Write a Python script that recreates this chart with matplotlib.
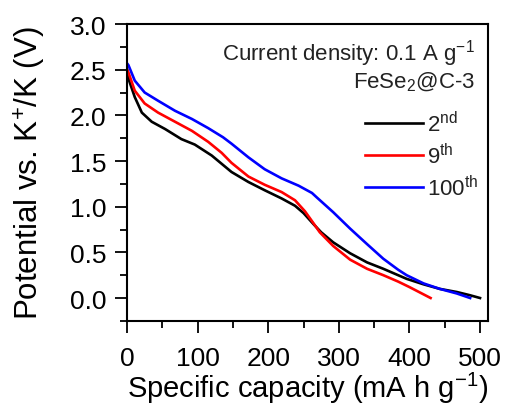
import matplotlib.pyplot as plt
import numpy as np

plt.rcParams['font.family'] = ['Liberation Sans', 'DejaVu Sans']
plt.rcParams['mathtext.fontset'] = 'custom'
plt.rcParams['mathtext.rm'] = 'Liberation Sans'

# discharge profiles (capacity in mA h g-1, potential in V)
cap_2nd = [0, 3, 11, 21, 35, 54, 77, 96, 120, 134, 148, 172, 195, 219, 238, 250, 264,
           275, 292, 316, 340, 363, 384, 396, 420, 443, 467, 486, 500]
v_2nd = [2.51, 2.38, 2.20, 2.03, 1.93, 1.85, 1.74, 1.68, 1.56, 1.47, 1.38, 1.27, 1.18, 1.09, 1.01, 0.93, 0.81,
         0.72, 0.61, 0.49, 0.39, 0.32, 0.25, 0.21, 0.15, 0.10, 0.066, 0.03, 0.0]

cap_9th = [0, 2, 11, 25, 44, 68, 92, 115, 134, 148, 172, 195, 219, 238, 252, 264,
           273, 292, 316, 340, 363, 384, 400, 415, 430]
v_9th = [2.50, 2.47, 2.27, 2.13, 2.03, 1.93, 1.83, 1.71, 1.59, 1.48, 1.33, 1.24, 1.16, 1.07, 0.95, 0.82,
         0.72, 0.57, 0.42, 0.32, 0.25, 0.18, 0.12, 0.06, 0.0]

cap_100th = [0, 2, 11, 25, 44, 68, 92, 115, 136, 148, 172, 195, 219, 243, 262, 269,
             292, 316, 340, 363, 384, 396, 420, 443, 467, 486]
v_100th = [2.57, 2.55, 2.38, 2.25, 2.16, 2.05, 1.96, 1.86, 1.76, 1.69, 1.54, 1.41, 1.31, 1.23, 1.15, 1.10,
           0.94, 0.76, 0.59, 0.43, 0.31, 0.25, 0.16, 0.10, 0.05, 0.0]

fig = plt.figure(figsize=(5.06, 4.10), dpi=100)
ax = fig.add_axes([0.251, 0.215, 0.713, 0.724])

ax.plot(cap_2nd, v_2nd, color='black', lw=1.9, label='2$^{\\rm nd}$')
ax.plot(cap_9th, v_9th, color='#ff0000', lw=1.9, label='9$^{\\rm th}$')
ax.plot(cap_100th, v_100th, color='#0000ff', lw=1.9, label='100$^{\\rm th}$')

ax.set_xlim(0, 511)
ax.set_ylim(-0.25, 3.0)
ax.set_xticks(np.arange(0, 501, 100))
ax.set_xticks(np.arange(0, 501, 50), minor=True)
ax.set_yticks(np.arange(0, 3.01, 0.5))
ax.set_yticks(np.arange(-0.25, 3.01, 0.25), minor=True)
ax.yaxis.set_major_formatter(plt.FormatStrFormatter('%.1f'))
ax.tick_params(which='major', direction='out', length=8.6, width=1.3, labelsize=19)
ax.tick_params(axis='x', which='major', pad=9.5)
ax.tick_params(axis='y', which='major', pad=6)
ax.tick_params(which='minor', direction='out', length=4.8, width=1.3)
for s in ax.spines.values():
    s.set_linewidth(1.5)

ax.set_xlabel('Specific capacity (mA h g$^{-1}$)', fontsize=21, labelpad=0)
ax.set_ylabel('Potential vs. K$^{+}$/K (V)', fontsize=22.5, labelpad=16)

ax.text(0.965, 0.955, 'Current density: 0.1 A g$^{-1}$', transform=ax.transAxes,
        ha='right', va='top', fontsize=16, color='#222222')
ax.text(0.965, 0.845, 'FeSe$_2$@C-3', transform=ax.transAxes,
        ha='right', va='top', fontsize=16, color='#222222')

ax.legend(loc='upper right', bbox_to_anchor=(1.018, 0.76), frameon=False, fontsize=16,
          handlelength=2.6, handletextpad=0.2, labelspacing=0.3, borderaxespad=0.3,
          labelcolor='#222222')

fig.savefig('out.png', dpi=100)
